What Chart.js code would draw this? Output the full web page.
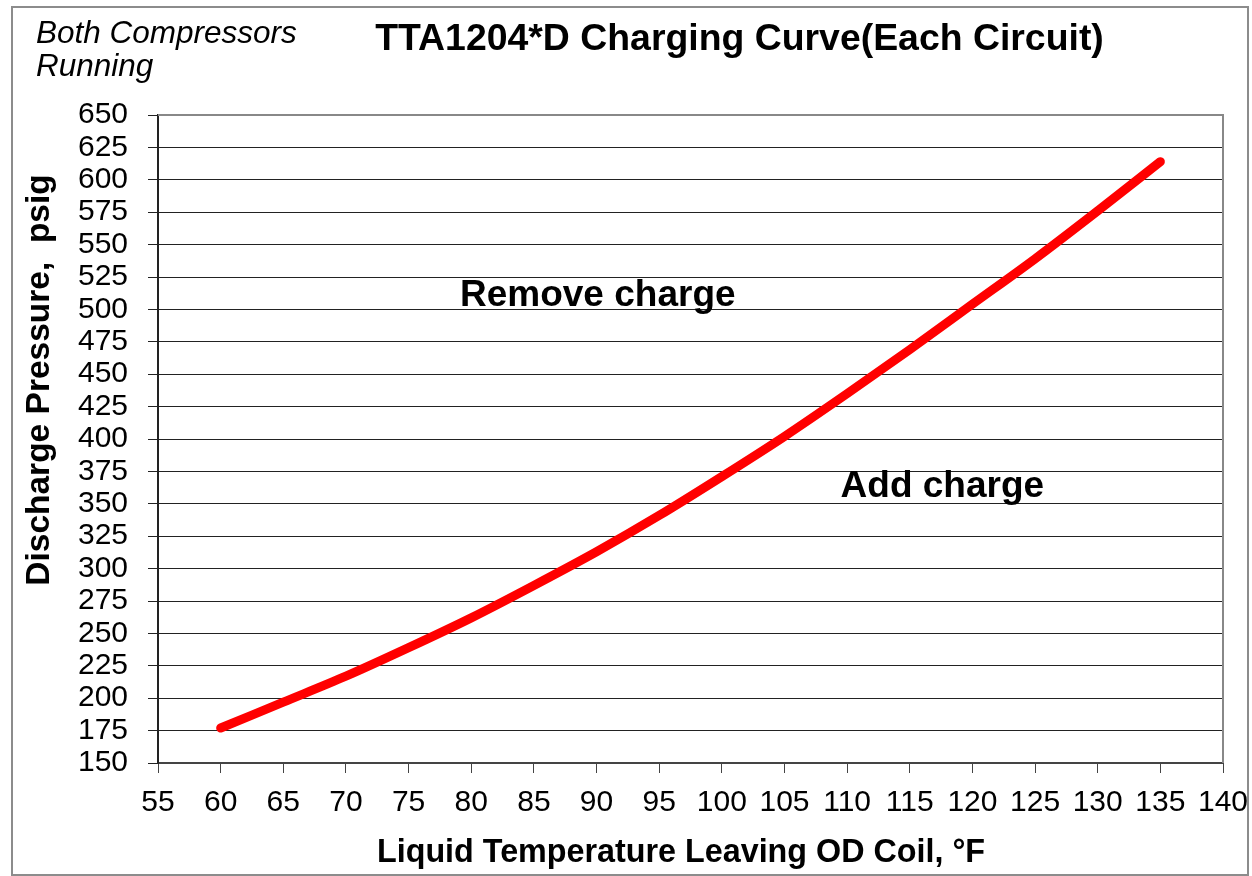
<!DOCTYPE html>
<html><head><meta charset="utf-8">
<script src="https://cdn.jsdelivr.net/npm/chart.js@4"></script>
<style>html,body{margin:0;padding:0;background:#fff}#wrap{width:1252px;height:876px}</style>
</head><body><div id="wrap"><canvas id="c" width="1252" height="876"></canvas></div>
<script>
// ---- data ----
const temperatures = [60, 65, 70, 75, 80, 85, 90, 95, 100, 105, 110, 115, 120, 125, 130, 135];
const pressures    = [177, 197, 217, 239, 262, 287, 313, 341, 371, 402, 435, 469, 504, 539, 576, 614];
const xTickMin = 55, xTickMax = 140, xTickStep = 5;
const yTickMin = 150, yTickMax = 650, yTickStep = 25;
const chartTitle = 'TTA1204*D Charging Curve(Each Circuit)';
const noteLines = ['Both Compressors', 'Running'];
const xAxisTitle = 'Liquid Temperature Leaving OD Coil, °F';
const yAxisTitle = 'Discharge Pressure,  psig';
const regionLabels = ['Remove charge', 'Add charge'];
const regionLabelX = [90.1, 117.6];
const regionLabelY = [502.6, 355.2];

const FONT = '"Liberation Sans", Arial, sans-serif';

const decor = {
  id: 'decor',
  afterDraw(chart) {
    const ctx = chart.ctx;
    const a = chart.chartArea;
    const xs = chart.scales.x, ys = chart.scales.y;
    ctx.save();
    // outer border
    ctx.strokeStyle = '#8c8c8c';
    ctx.lineWidth = 2;
    ctx.strokeRect(12, 7, 1236, 868);
    // plot frame top/right
    ctx.beginPath();
    ctx.moveTo(a.left, a.top); ctx.lineTo(a.right, a.top); ctx.lineTo(a.right, a.bottom);
    ctx.strokeStyle = '#888';
    ctx.lineWidth = 2;
    ctx.stroke();
    ctx.fillStyle = '#000';
    // title
    ctx.font = 'bold 37.4px ' + FONT;
    ctx.textAlign = 'center';
    ctx.textBaseline = 'alphabetic';
    ctx.fillText(chartTitle, 739.5, 50);
    // note
    ctx.font = 'italic 31.5px ' + FONT;
    ctx.textAlign = 'left';
    ctx.fillText(noteLines[0], 36, 43);
    ctx.fillText(noteLines[1], 36, 76);
    // x axis title
    ctx.font = 'bold 32.3px ' + FONT;
    ctx.textAlign = 'center';
    ctx.fillText(xAxisTitle, 681, 862);
    // y axis title
    ctx.save();
    ctx.font = 'bold 33.5px ' + FONT;
    ctx.translate(49, 380);
    ctx.rotate(-Math.PI / 2);
    ctx.fillText(yAxisTitle, 0, 0);
    ctx.restore();
    // region labels
    ctx.font = 'bold 37px ' + FONT;
    for (let i = 0; i < regionLabels.length; i++) {
      ctx.fillText(regionLabels[i], xs.getPixelForValue(regionLabelX[i]), ys.getPixelForValue(regionLabelY[i]));
    }
    ctx.restore();
  }
};

new Chart(document.getElementById('c'), {
  type: 'line',
  data: {
    datasets: [{
      data: temperatures.map((t, i) => ({ x: t, y: pressures[i] })),
      borderColor: '#ff0000',
      borderWidth: 9,
      pointRadius: 0,
      cubicInterpolationMode: 'monotone',
      borderCapStyle: 'round',
      borderJoinStyle: 'round',
      fill: false
    }]
  },
  options: {
    responsive: false,
    animation: false,
    devicePixelRatio: 1,
    layout: { padding: { left: 0, top: 115, right: 29, bottom: 0 } },
    plugins: { legend: { display: false }, tooltip: { enabled: false }, title: { display: false } },
    scales: {
      x: {
        type: 'linear', min: xTickMin, max: xTickMax,
        ticks: { stepSize: xTickStep, autoSkip: false, maxRotation: 0, color: '#000', padding: 12,
                 font: { family: FONT, size: 30 } },
        grid: { drawOnChartArea: false, drawTicks: true, tickLength: 10, color: '#444', lineWidth: 1 },
        border: { color: '#444', width: 2 },
        afterFit(s) { s.height = 113; s.paddingLeft = 0; s.paddingRight = 0; }
      },
      y: {
        type: 'linear', min: yTickMin, max: yTickMax,
        ticks: { stepSize: yTickStep, autoSkip: false, color: '#000', padding: 20,
                 font: { family: FONT, size: 30 } },
        grid: { color: '#222', tickLength: 10, lineWidth: 1 },
        border: { color: '#222', width: 2 },
        afterFit(s) { s.width = 158; s.paddingTop = 0; s.paddingBottom = 0; }
      }
    }
  },
  plugins: [decor]
});
</script>
</body></html>
